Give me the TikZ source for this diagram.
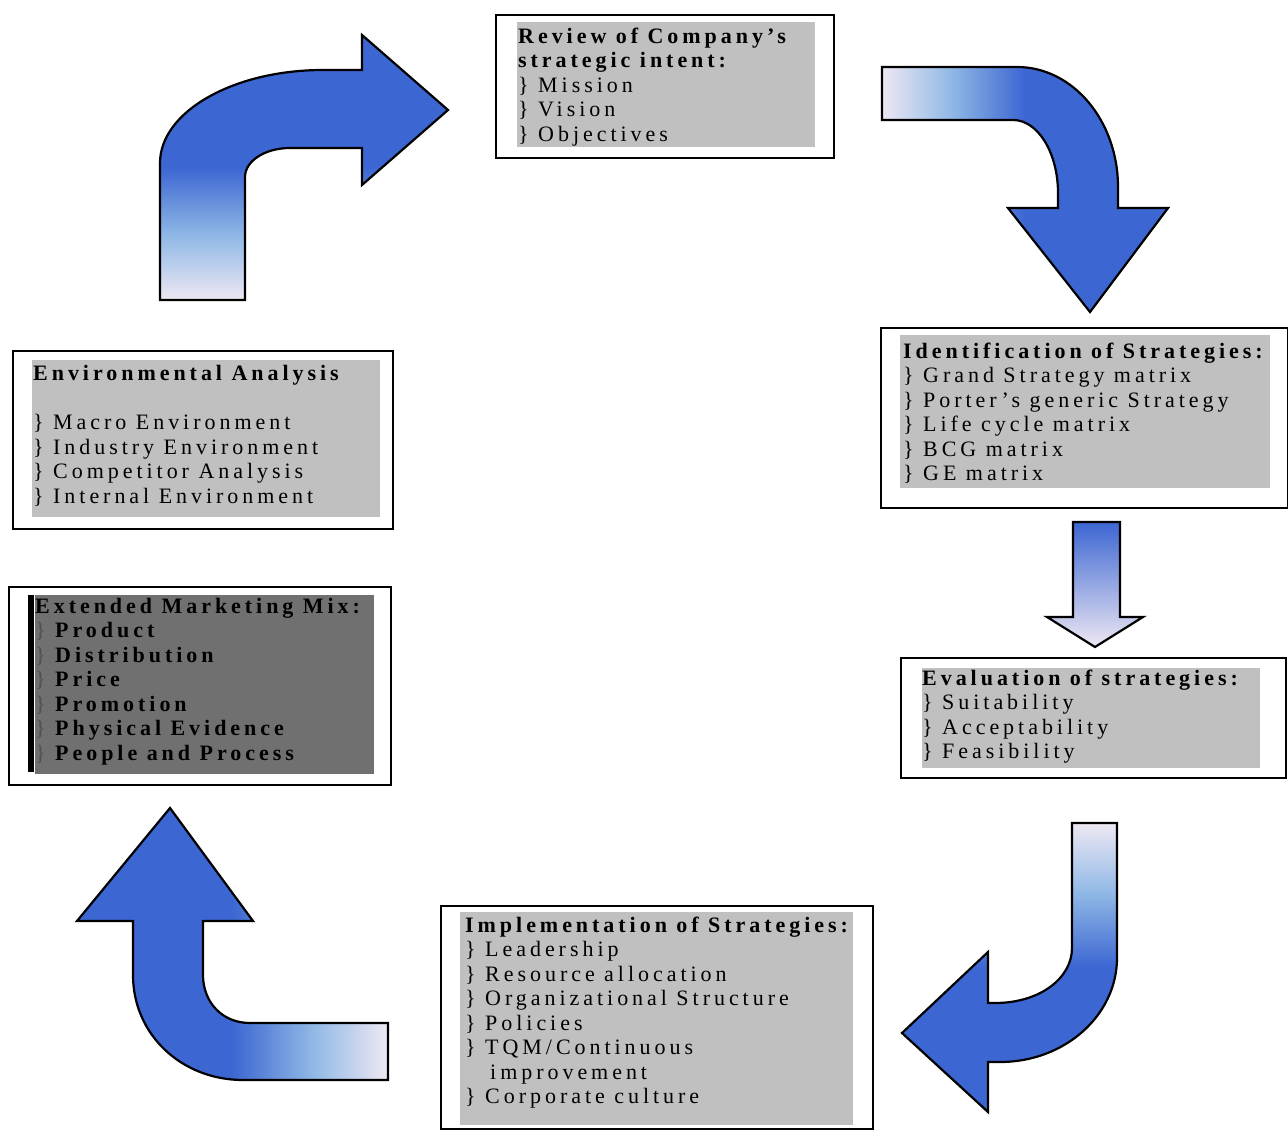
\documentclass[tikz,border=0pt]{standalone}
\usepackage{fontspec}
\setmainfont{Liberation Serif}
\newfontfamily\lsfont{Liberation Serif}[LetterSpace=18]

% palette
\definecolor{arrbl}{RGB}{60,102,210}
\definecolor{arrmd}{RGB}{145,185,230}
\definecolor{arrlt}{RGB}{238,232,243}
\definecolor{panelgray}{RGB}{192,192,192}
\definecolor{paneldark}{RGB}{112,112,112}
\definecolor{bulletdk}{RGB}{80,80,80}

% blue at the top, fading to a pale lavender at the bottom
\pgfdeclareverticalshading{arrowfade}{100bp}{%
  color(0bp)=(arrlt); color(25bp)=(arrlt); color(37bp)=(arrmd);
  color(50bp)=(arrbl); color(100bp)=(arrbl)}

\begin{document}
\begin{tikzpicture}[x=1pt,y=-1pt,
  frame/.style={draw=black, line width=2.2pt, fill=white, inner sep=0pt,
    anchor=north west},
  boxtext/.style={anchor=north west, inner sep=0pt, align=left,
    font=\lsfont\fontsize{22}{24.5}\selectfont},
  blockarrow/.style={draw=black, line width=2.2pt, line join=miter,
    shading=arrowfade}]
\useasboundingbox[fill=white] (0,0) rectangle (1288,1132);

\newcommand\fs{\rule{0pt}{16pt}}
\newcommand\bl{\}~}

% ---------- step boxes ----------
\node[frame, minimum width=338pt, minimum height=143pt] (review) at (495,14) {};
\fill[panelgray] (517,22) rectangle (815,147);
\node[boxtext] (reviewtxt) at (518,27) {\fs\textbf{Review of Company’s}\\
  \textbf{strategic intent:}\\ \bl Mission\\ \bl Vision\\ \bl Objectives};

\node[frame, minimum width=407pt, minimum height=180pt] (ident) at (880,327) {};
\fill[panelgray] (900,335) rectangle (1270,488);
\node[boxtext] (identtxt) at (903,342) {\fs\textbf{Identification of Strategies:}\\
  \bl Grand Strategy matrix\\ \bl Porter’s generic Strategy\\
  \bl Life cycle matrix\\ \bl BCG matrix\\ \bl GE matrix};

\node[frame, minimum width=385pt, minimum height=120pt] (eval) at (900,657) {};
\fill[panelgray] (922,668) rectangle (1260,768);
\node[boxtext] (evaltxt) at (922,669) {\fs\textbf{Evaluation of strategies:}\\
  \bl Suitability\\ \bl Acceptability\\ \bl Feasibility};

\node[frame, minimum width=432pt, minimum height=223pt] (impl) at (440,905) {};
\fill[panelgray] (460,912) rectangle (853,1125);
\node[boxtext] (impltxt) at (465,916) {\fs\textbf{Implementation of Strategies:}\\
  \bl Leadership\\ \bl Resource allocation\\ \bl Organizational Structure\\
  \bl Policies\\ \bl TQM/Continuous\\ \hspace*{25pt}improvement\\
  \bl Corporate culture};

\node[frame, minimum width=382pt, minimum height=198pt] (mix) at (8,586) {};
\fill[paneldark] (35,595) rectangle (374,774);
\fill[black] (28,595) rectangle (34,772);
\node[boxtext] (mixtxt) at (35,597) {\fs\textbf{Extended Marketing Mix:}\\
  {\color{bulletdk}\}}~\textbf{Product}\\ {\color{bulletdk}\}}~\textbf{Distribution}\\
  {\color{bulletdk}\}}~\textbf{Price}\\ {\color{bulletdk}\}}~\textbf{Promotion}\\
  {\color{bulletdk}\}}~\textbf{Physical Evidence}\\
  {\color{bulletdk}\}}~\textbf{People and Process}};

\node[frame, minimum width=380pt, minimum height=178pt] (env) at (12,350) {};
\fill[panelgray] (32,360) rectangle (380,517);
\node[boxtext] (envtxt) at (33,364) {\fs\textbf{Environmental Analysis}\\[25pt]
  \bl Macro Environment\\ \bl Industry Environment\\
  \bl Competitor Analysis\\ \bl Internal Environment};

% ---------- block arrows between the steps ----------
% environment -> review (up, then right)
\draw[blockarrow] (160,300) -- (160,163)
  .. controls (160,112) and (233,70) .. (323,70) -- (362,70) -- (362,35)
  -- (448,110) -- (362,185) -- (362,148) -- (290,148)
  .. controls (265,148) and (245,161) .. (245,177) -- (245,300) -- cycle;

% review -> identification (right, then down)
\draw[blockarrow, shading angle=-90] (882,67) -- (1017,67)
  .. controls (1073,67) and (1118,121) .. (1118,187) -- (1118,208)
  -- (1168,208) -- (1090,312) -- (1008,208) -- (1058,208) -- (1058,193)
  .. controls (1058,153) and (1038,120) .. (1013,120) -- (882,120) -- cycle;

% identification -> evaluation (straight down)
\draw[draw=black, line width=2.2pt, line join=miter,
  top color=arrbl, middle color=arrmd!80!arrbl, bottom color=arrlt]
  (1073,522) -- (1120,522) -- (1120,617) -- (1143,617) -- (1095,647)
  -- (1047,617) -- (1073,617) -- cycle;

% evaluation -> implementation (down, then left)
\draw[blockarrow, shading angle=180] (1072,823) -- (1117,823) -- (1117,958)
  .. controls (1117,1015) and (1065,1062) .. (1000,1062) -- (988,1062)
  -- (988,1112) -- (902,1033) -- (988,952) -- (988,1003) -- (995,1003)
  .. controls (1040,1003) and (1072,978) .. (1072,948) -- cycle;

% implementation -> marketing mix (left, then up)
\draw[blockarrow, shading angle=90] (170,808) -- (253,921) -- (203,921)
  -- (203,975) .. controls (203,1002) and (222,1023) .. (250,1023)
  -- (388,1023) -- (388,1080) -- (243,1080)
  .. controls (182,1080) and (133,1035) .. (133,975) -- (133,921)
  -- (77,921) -- cycle;
\end{tikzpicture}
\end{document}
